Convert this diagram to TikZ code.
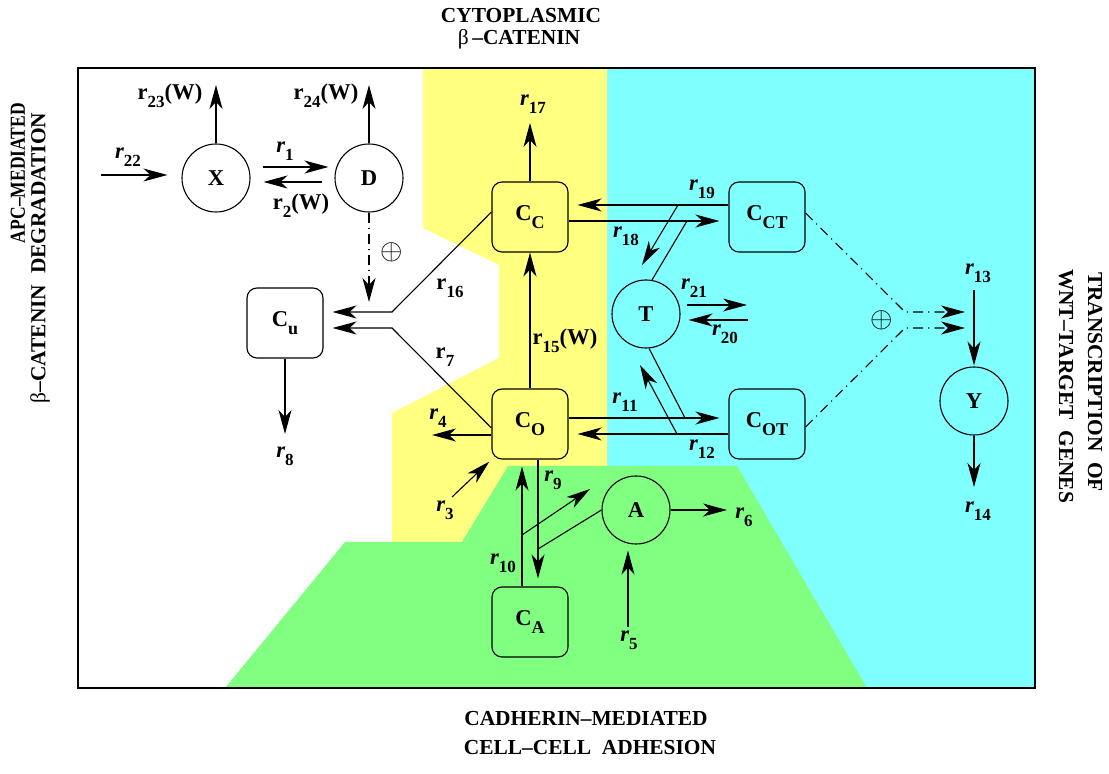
\documentclass[tikz,border=0pt]{standalone}
\usepackage{fontspec}
\setmainfont{Liberation Serif}
\usetikzlibrary{arrows.meta,calc}
\definecolor{yel}{RGB}{255,255,128}
\definecolor{cya}{RGB}{128,255,255}
\definecolor{gre}{RGB}{128,255,128}
\newcommand{\sbs}[1]{\raisebox{-4pt}{\fontsize{9}{10}\selectfont #1}}
\newcommand{\rsb}[1]{\raisebox{-4pt}{\fontsize{8.5}{9}\selectfont #1}}
\newcommand{\ri}[1]{\textit{r}\rsb{#1}}
\newcommand{\ru}[1]{r\rsb{#1}}
\begin{document}
\begin{tikzpicture}[x=0.5pt,y=-0.5pt, line width=0.55pt,
 arr/.style={-{Stealth[length=12pt,width=6.5pt,inset=3.5pt]}},
 ddash/.style={dash pattern=on 5pt off 2.5pt on 0.6pt off 2.5pt},
 circ/.style={circle,draw,minimum size=34pt,inner sep=0pt,font=\fontsize{11.3}{13}\selectfont\bfseries},
 box/.style={rectangle,rounded corners=5pt,draw,minimum width=38pt,minimum height=35pt,inner sep=0pt,font=\fontsize{11.3}{13}\selectfont\bfseries},
 lab/.style={inner sep=0pt,font=\fontsize{11.3}{13}\selectfont\bfseries},
 ttl/.style={inner sep=0pt,font=\fontsize{10.7}{12}\selectfont\bfseries},
 op/.style={inner sep=0pt,font=\fontsize{14}{15}\selectfont}]
\useasboundingbox (0,0) rectangle (1109,774);
% regions
\fill[cya] (607,68) rectangle (1035,688);
\fill[yel] (423,68) -- (607,68) -- (607,542) -- (392,542) -- (392,413) -- (499,358) -- (499,265) -- (423,228) -- cycle;
\fill[gre] (225,688) -- (345,542) -- (462,542) -- (508,466) -- (737,466) -- (867,688) -- cycle;
\draw[line width=0.9pt] (78,68) rectangle (1035,688);
% titles
\node[ttl] (tt1) at (521,16) {CYTOPLASMIC};
\node[ttl] (tt2) at (519,39) {{\mdseries β}\,--CATENIN};
\node[ttl] (tb1) at (586,719) {CADHERIN--MEDIATED};
\node[ttl] (tb2) at (590,748) {CELL--CELL\ \ ADHESION};
\node[ttl,rotate=90] (tl1) at (18,173) {\scalebox{0.82}[1]{APC--MEDIATED}};
\node[ttl,rotate=90] (tl2) at (40,258) {{\mdseries β}--CATENIN\ \ DEGRADATION};
\node[ttl,rotate=-90] (tr1) at (1095,382) {TRANSCRIPTION\ \ OF};
\node[ttl,rotate=-90] (tr2) at (1066,386) {WNT--TARGET\ \ GENES};
% nodes
\node[circ] (X) at (216,178) {X};
\node[circ] (D) at (369,178) {D};
\node[box] (Cc) at (530,217) {C\sbs{C}};
\node[box] (Cct) at (767,217) {C\sbs{CT}};
\node[circ] (T) at (646,314) {T};
\node[box] (Cu) at (285,323) {C\sbs{u}};
\node[box] (Co) at (530,424) {C\sbs{O}};
\node[box] (Cot) at (767,424) {C\sbs{OT}};
\node[circ] (Y) at (974,401) {Y};
\node[circ] (A) at (636,510) {A};
\node[box] (Ca) at (530,622) {C\sbs{A}};
% r22
\coordinate (p22) at (101,175);
\draw[arr,shorten >=7pt] (p22) -- (p22 -| X.west);
% r23, r24
\coordinate (p23) at (216,85);
\draw[arr] (X.north) -- (p23);
\coordinate (p24) at (369,85);
\draw[arr] (D.north) -- (p24);
% r1, r2
\draw[arr,shorten <=6pt,shorten >=3pt] ([yshift=5.5pt]X.east) -- ([yshift=5.5pt]D.west);
\draw[arr,shorten <=6pt,shorten >=6.5pt] ([yshift=-2pt]D.west) -- ([yshift=-2pt]X.east);
% D -> Cu
\coordinate (pD) at (369,302);
\draw[arr,ddash] (D.south) -- (pD);
% r16, r7
\coordinate (b16) at (392,312);
\draw[arr,shorten >=4.5pt] ([yshift=2.5pt]Cc.west) -- (b16) -- (b16 -| Cu.east);
\coordinate (b7) at (392,328);
\draw[arr,shorten >=4.5pt] ([yshift=-2pt]Co.west) -- (b7) -- (b7 -| Cu.east);
% r8
\coordinate (p8) at (285,434);
\draw[arr] (Cu.south) -- (p8);
% r4, r3
\coordinate (p4) at (432,435);
\draw[arr] (p4 -| Co.west) -- (p4);
\coordinate (p3) at (452,497);
\draw[arr,shorten >=1.5pt] (p3) -- (Co.south west);
% r15, r17
\draw[arr] (Co.north) -- (Cc.south);
\coordinate (p17) at (530,123);
\draw[arr] (Cc.north) -- (p17);
% r19
\draw[arr,shorten >=4.5pt] ([yshift=6pt]Cct.west) -- ([yshift=6pt]Cc.east);
\coordinate (j19) at (678,205);
\coordinate (p19) at (642,265);
\draw[arr] (j19) -- (p19);
% r18
\draw[arr,shorten >=4.5pt] ([yshift=-2pt]Cc.east) -- ([yshift=-2pt]Cct.west);
\coordinate (j18) at (687,221);
\draw (T.80) -- (j18);
% r11
\draw[arr,shorten >=4.5pt] ([yshift=3pt]Co.east) -- ([yshift=3pt]Cot.west);
\coordinate (j11) at (685,418);
\draw (T.-85) -- (j11);
% r12
\draw[arr,shorten >=4.5pt] ([yshift=-5pt]Cot.west) -- ([yshift=-5pt]Co.east);
\coordinate (j12) at (677,434);
\coordinate (p12) at (640,365);
\draw[arr] (j12) -- (p12);
% r21, r20
\coordinate (p21) at (747,305);
\draw[arr,shorten <=3pt] (p21 -| T.east) -- (p21);
\coordinate (p20) at (748,320);
\draw[arr,shorten >=4pt] (p20) -- (p20 -| T.east);
% dash-dot to Y
\coordinate (jt) at (905,312);
\coordinate (jb) at (905,328);
\coordinate (ptop) at (965,312);
\coordinate (pbot) at (965,328);
\draw[arr,ddash] ([yshift=2pt]Cct.east) -- (jt) -- (ptop);
\draw[arr,ddash] ([yshift=-1.5pt]Cot.east) -- (jb) -- (pbot);
% r13, r14
\coordinate (p13) at (974,290);
\draw[arr,shorten >=0.5pt] (p13) -- (Y.north);
\coordinate (p14) at (974,487);
\draw[arr] (Y.south) -- (p14);
% r9
\draw[arr,shorten >=4pt] ([xshift=4pt]Co.south) -- ([xshift=4pt]Ca.north);
\coordinate (j9) at (538,549);
\draw (A.west) -- (j9);
% r10
\draw[arr,shorten >=3.5pt] ([xshift=-4pt]Ca.north) -- ([xshift=-4pt]Co.south);
\coordinate (j10) at (522,535);
\coordinate (p10) at (590,489);
\draw[arr] (j10) -- (p10);
% r6, r5
\coordinate (p6) at (727,510);
\draw[arr] (A.east) -- (p6);
\coordinate (p5) at (628,627);
\draw[arr,shorten >=3pt] (p5) -- (p5 |- A.south);
% labels
\node[lab] (l22) at (128,157) {\ri{22}};
\node[lab] (l23) at (170,96) {\ru{23}(W)};
\node[lab] (l24) at (326,96) {\ru{24}(W)};
\node[lab] (l1) at (285,151) {\ri{1}};
\node[lab] (l2) at (301,206) {\ru{2}(W)};
\node[lab] (l17) at (533,104) {\ri{17}};
\node[lab] (l19) at (702,189) {\ri{19}};
\node[lab] (l18) at (626,236) {\ri{18}};
\node[lab] (l21) at (694,288) {\ri{21}};
\node[lab] (l20) at (725,334) {\ri{20}};
\node[lab] (l11) at (625,402) {\ri{11}};
\node[lab] (l12) at (702,449) {\ri{12}};
\node[lab] (l16) at (450,288) {\ru{16}};
\node[lab] (l7) at (445,357) {\ru{7}};
\node[lab] (l8) at (285,456) {\ri{8}};
\node[lab] (l4) at (438,418) {\ri{4}};
\node[lab] (l3) at (445,510) {\ri{3}};
\node[lab] (l9) at (553,480) {\ri{9}};
\node[lab] (l10) at (503,563) {\ri{10}};
\node[lab] (l6) at (744,517) {\ri{6}};
\node[lab] (l5) at (629,640) {\ri{5}};
\node[lab] (l15) at (565,341) {\ru{15}(W)};
\node[lab] (l13) at (978,273) {\ri{13}};
\node[lab] (l14) at (978,511) {\ri{14}};
\node[op] (o1) at (392,252) {$\oplus$};
\node[op] (o2) at (882,320) {$\oplus$};
\end{tikzpicture}
\end{document}
